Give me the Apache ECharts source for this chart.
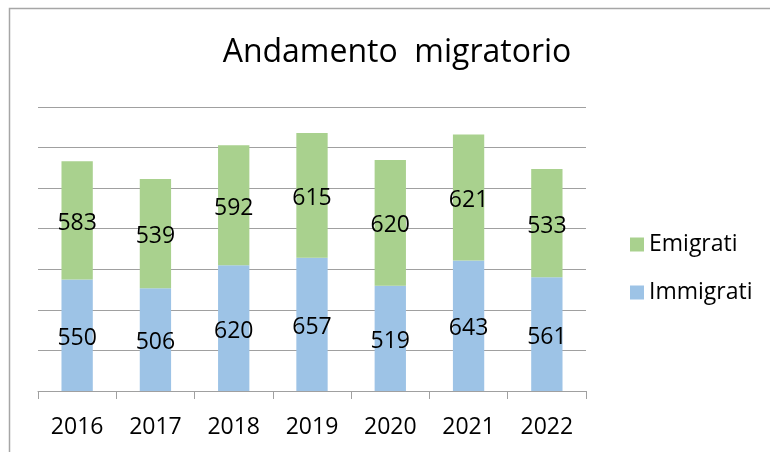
<!DOCTYPE html>
<html>
<head>
<meta charset="utf-8">
<script src="https://cdn.jsdelivr.net/npm/echarts@6/dist/echarts.min.js"></script>
<style>
  html, body { margin: 0; padding: 0; background: #fff; }
  #chart { width: 770px; height: 452px; }
</style>
</head>
<body>
<div id="chart"></div>
<script>
const years = ['2016', '2017', '2018', '2019', '2020', '2021', '2022']
const immigrati = [550, 506, 620, 657, 519, 643, 561]
const emigrati = [583, 539, 592, 615, 620, 621, 533]

const font = 'Open Sans'
const chart = echarts.init(document.getElementById('chart'))

chart.setOption({
  animation: false,
  textStyle: { fontFamily: font },
  graphic: [
    {
      type: 'rect',
      shape: { x: 9.5, y: 8.5, width: 800, height: 500 },
      style: { fill: 'none', stroke: '#a6a6a6', lineWidth: 1.5 },
      silent: true
    }
  ],
  title: {
    text: 'Andamento  migratorio',
    left: 392,
    top: 32,
    textAlign: 'center',
    textStyle: {
      fontFamily: font,
      fontWeight: 'normal',
      fontSize: 32,
      color: '#000'
    }
  },
  legend: {
    orient: 'vertical',
    left: 625,
    top: 228,
    itemGap: 25,
    itemWidth: 14,
    itemHeight: 14,
    icon: 'rect',
    data: ['Emigrati', 'Immigrati'],
    textStyle: { fontFamily: font, fontSize: 23, color: '#000' }
  },
  grid: {
    left: 38,
    right: 184,
    top: 107,
    bottom: 61
  },
  xAxis: {
    type: 'category',
    data: years,
    axisLine: { lineStyle: { color: '#a0a0a0', width: 1 } },
    axisTick: { show: true, length: 8, lineStyle: { color: '#a0a0a0' } },
    axisLabel: { fontFamily: font, fontSize: 23, color: '#000', margin: 25 }
  },
  yAxis: {
    type: 'value',
    min: 0,
    max: 1400,
    interval: 200,
    axisLine: { show: false },
    axisTick: { show: false },
    axisLabel: { show: false },
    splitLine: { lineStyle: { color: '#a0a0a0', width: 1 } }
  },
  series: [
    {
      name: 'Immigrati',
      type: 'bar',
      stack: 'tot',
      barWidth: '40%',
      color: '#9dc3e6',
      label: {
        show: true,
        position: 'inside',
        offset: [0, 3],
        fontFamily: font,
        fontSize: 23,
        color: '#000'
      },
      data: immigrati
    },
    {
      name: 'Emigrati',
      type: 'bar',
      stack: 'tot',
      barWidth: '40%',
      color: '#a9d18e',
      label: {
        show: true,
        position: 'inside',
        offset: [0, 3],
        fontFamily: font,
        fontSize: 23,
        color: '#000'
      },
      data: emigrati
    }
  ]
})
</script>
</body>
</html>
